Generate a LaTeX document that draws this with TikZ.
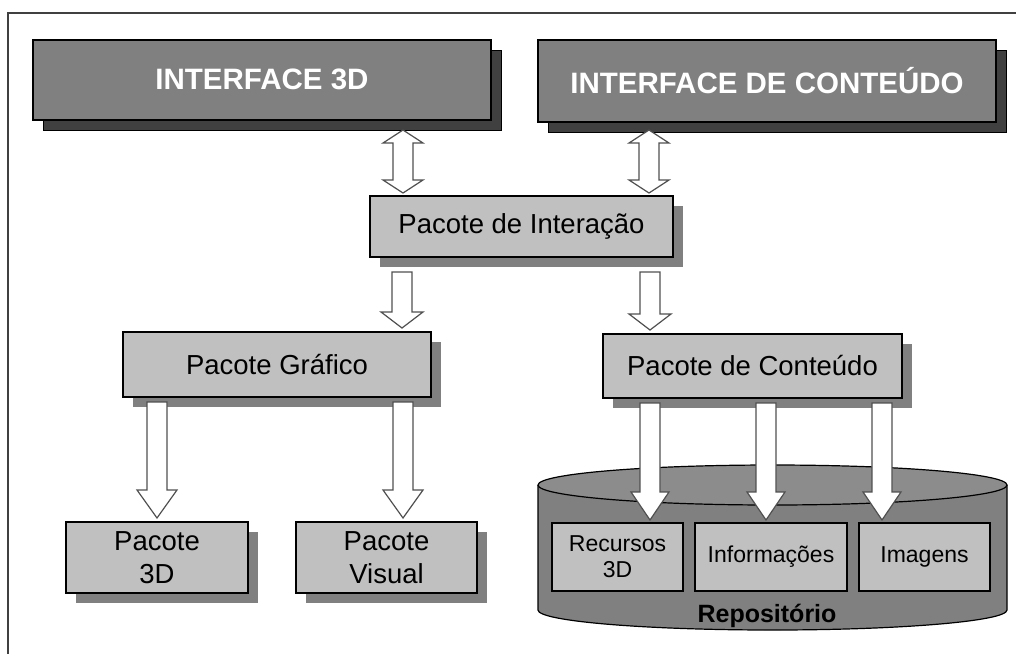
\documentclass[tikz,border=0pt]{standalone}
\usepackage{fontspec}
\setmainfont{Liberation Sans}
\usetikzlibrary{calc,shadows}
\definecolor{hdrfill}{HTML}{808080}
\definecolor{hdrshadow}{HTML}{404040}
\definecolor{boxfill}{HTML}{C0C0C0}
\definecolor{boxshadow}{HTML}{808080}
\definecolor{cylside}{HTML}{808080}
\definecolor{cyltop}{HTML}{8C8C8C}
\definecolor{arrline}{HTML}{505050}
\tikzset{
  hdr/.style={draw=black, line width=1.5pt, fill=hdrfill, text=white, inner sep=0pt,
    font=\fontsize{29.5}{34}\selectfont\bfseries,
    drop shadow={shadow xshift=10pt, shadow yshift=-10pt, fill=hdrshadow, draw=black, line width=1pt, opacity=1}},
  pkg/.style={draw=black, line width=1.5pt, fill=boxfill, inner sep=0pt, align=center,
    font=\fontsize{27.5}{33}\selectfont,
    drop shadow={shadow xshift=10pt, shadow yshift=-10pt, fill=boxshadow, opacity=1}},
  inbox/.style={draw=black, line width=1.2pt, fill=boxfill, inner sep=0pt, align=center,
    font=\fontsize{23}{26}\selectfont},
  blk/.style={draw=arrline, line width=1.2pt, fill=white, line join=miter},
  frameline/.style={draw=hdrshadow, line width=1.5pt}
}
\newcommand{\downblk}[5]{\draw[blk] ($(#1)+(-#3,0)$) -- ($(#2)+(-#3,-#5)$) -- ($(#2)+(-#4,-#5)$) -- (#2) -- ($(#2)+(#4,-#5)$) -- ($(#2)+(#3,-#5)$) -- ($(#1)+(#3,0)$) -- cycle;}
\newcommand{\dblblk}[5]{\draw[blk] (#1) -- ($(#1)+(#4,#5)$) -- ($(#1)+(#3,#5)$) -- ($(#2)+(#3,-#5)$) -- ($(#2)+(#4,-#5)$) -- (#2) -- ($(#2)+(-#4,-#5)$) -- ($(#2)+(-#3,-#5)$) -- ($(#1)+(-#3,#5)$) -- ($(#1)+(-#4,#5)$) -- cycle;}
\begin{document}
\begin{tikzpicture}[x=1pt,y=-1pt]
\useasboundingbox[fill=white] (0,0) rectangle (1016,654);
% frame
\coordinate (fTR) at (1016,13);
\coordinate (fTL) at (8,13);
\coordinate (fBL) at (8,654);
\draw[frameline] (fTR) -- (fTL) -- (fBL);

% headers
\node[hdr, minimum width=458pt, minimum height=80pt] (i3d) at (262,80) {\raisebox{2pt}{INTERFACE 3D}};
\node[hdr, minimum width=458pt, minimum height=82pt] (icont) at (767,81) {\raisebox{2pt}{INTERFACE DE CONTEÚDO}};

% packages
\node[pkg, minimum width=303pt, minimum height=61pt] (pint) at (521.5,226.5) {Pacote de Interação};
\node[pkg, minimum width=308pt, minimum height=65pt] (pgraf) at (277,364.5) {Pacote Gráfico};
\node[pkg, minimum width=299pt, minimum height=64pt] (pcont) at (752.5,366) {Pacote de Conteúdo};
\node[pkg, minimum width=182pt, minimum height=71pt] (p3d) at (157,557.5) {Pacote\\3D};
\node[pkg, minimum width=181pt, minimum height=71pt] (pvis) at (386.5,557.5) {Pacote\\Visual};

% repository cylinder
\fill[cylside] (538,485) -- (538,610) arc[start angle=180, end angle=0, x radius=234.5, y radius=20] -- (1007,485) -- cycle;
\draw[black, line width=1.2pt] (538,485) -- (538,610) arc[start angle=180, end angle=0, x radius=234.5, y radius=20] -- (1007,485);
\draw[black, line width=1.2pt, fill=cyltop] (772.5,485) ellipse[x radius=234.5, y radius=20];
\node[font=\fontsize{25}{28}\selectfont\bfseries] (repo) at (767,616) {Repositório};
\node[inbox, minimum width=131pt, minimum height=68pt] (rec) at (617.5,557) {Recursos\\3D};
\node[inbox, minimum width=152pt, minimum height=68pt] (inf) at (771,557) {Informações};
\node[inbox, minimum width=131pt, minimum height=68pt] (img) at (924.5,557) {Imagens};

% arrow end points
\coordinate (a1s) at (403,130); \coordinate (a1e) at (403,193);
\coordinate (a2s) at (649,130); \coordinate (a2e) at (649,193);
\coordinate (b1s) at (402,272); \coordinate (b1e) at (402,328);
\coordinate (b2s) at (650,272); \coordinate (b2e) at (650,330);
\coordinate (c1s) at (157,402); \coordinate (c1e) at (157,518);
\coordinate (c2s) at (403,402); \coordinate (c2e) at (403,518);
\coordinate (d1s) at (650,403); \coordinate (d1e) at (650,520);
\coordinate (d2s) at (766,403); \coordinate (d2e) at (766,520);
\coordinate (d3s) at (882,403); \coordinate (d3e) at (882,520);

\dblblk{a1s}{a1e}{10}{20}{13}
\dblblk{a2s}{a2e}{10}{20}{13}
\downblk{b1s}{b1e}{10}{21}{16}
\downblk{b2s}{b2e}{10}{21}{16}
\downblk{c1s}{c1e}{10}{20}{28}
\downblk{c2s}{c2e}{10}{20}{28}
\downblk{d1s}{d1e}{10}{19}{28}
\downblk{d2s}{d2e}{10}{19}{28}
\downblk{d3s}{d3e}{10}{19}{28}
\end{tikzpicture}
\end{document}
